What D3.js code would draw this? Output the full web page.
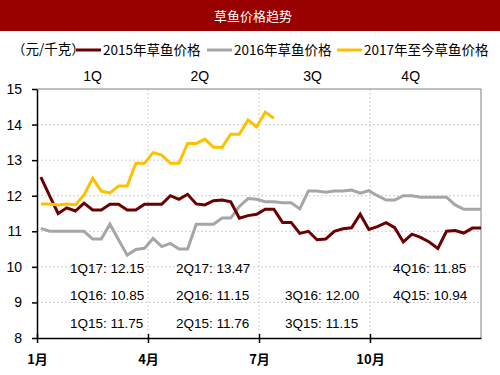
<!DOCTYPE html>
<html lang="zh">
<head>
<meta charset="utf-8">
<title>草鱼价格趋势</title>
<script src="https://d3js.org/d3.v7.min.js"></script>
<style>
  body { margin: 0; background: #fff; }
  svg text { font-family: "Liberation Sans", Arial, "Noto Sans CJK SC", sans-serif; fill: #000; }
  .cjk { font-family: "Noto Sans CJK SC", "Liberation Sans", sans-serif; }
  .grid line { stroke: #cfcfcf; stroke-width: 1; stroke-dasharray: 2,2; }
</style>
</head>
<body>
<div id="chart"></div>
<script>
// weekly price, yuan/kg (52 weeks)
var price2015 = [12.52, 12.0, 11.5, 11.66, 11.57, 11.79, 11.6, 11.6, 11.76, 11.76,
  11.6, 11.6, 11.76, 11.76, 11.76, 12.0, 11.9, 12.04, 11.77, 11.74,
  11.86, 11.88, 11.83, 11.37, 11.44, 11.48, 11.62, 11.62, 11.25, 11.25,
  10.94, 11.0, 10.76, 10.78, 11.0, 11.07, 11.1, 11.48, 11.05, 11.13,
  11.24, 11.1, 10.7, 10.92, 10.83, 10.7, 10.52, 11.0, 11.02, 10.95,
  11.09, 11.09];
var price2016 = [11.08, 11.0, 11.0, 11.0, 11.0, 11.0, 10.78, 10.78, 11.2, 10.76,
  10.33, 10.49, 10.52, 10.8, 10.57, 10.66, 10.5, 10.5, 11.2, 11.2,
  11.2, 11.37, 11.37, 11.7, 11.92, 11.9, 11.83, 11.83, 11.8, 11.8,
  11.63, 12.13, 12.13, 12.1, 12.13, 12.13, 12.16, 12.07, 12.14, 12.0,
  11.88, 11.88, 12.0, 12.0, 11.96, 11.96, 11.96, 11.96, 11.74, 11.62,
  11.62, 11.62];
var price2017 = [11.77, 11.77, 11.74, 11.77, 11.74, 12.02, 12.49, 12.13, 12.08, 12.27,
  12.27, 12.91, 12.91, 13.21, 13.14, 12.91, 12.91, 13.47, 13.47, 13.59,
  13.36, 13.36, 13.73, 13.73, 14.13, 13.94, 14.35, 14.18];

var seriesNames = ["2015年草鱼价格", "2016年草鱼价格", "2017年至今草鱼价格"];
var seriesColors = ["#6b0000", "#a6a6a6", "#ffc000"];

var yTicks = [8, 9, 10, 11, 12, 13, 14, 15];
var monthTicks = [0, 3, 6, 9];
var monthLabels = ["1月", "4月", "7月", "10月"];
var quarterLabels = ["1Q", "2Q", "3Q", "4Q"];

// quarterly averages: [quarter, row, text]
var quarterNotes = [
  [0, 0, "1Q17: 12.15"], [0, 1, "1Q16: 10.85"], [0, 2, "1Q15: 11.75"],
  [1, 0, "2Q17: 13.47"], [1, 1, "2Q16: 11.15"], [1, 2, "2Q15: 11.76"],
  [2, 1, "3Q16: 12.00"], [2, 2, "3Q15: 11.15"],
  [3, 0, "4Q16: 11.85"], [3, 1, "4Q15: 10.94"]
];

var w = 500, h = 375;
var pLeft = 37, pRight = 481, pTop = 89, pBottom = 338;

var svg = d3.select("#chart").append("svg")
  .attr("width", w)
  .attr("height", h);

// title bar
svg.append("rect")
  .attr("x", 0).attr("y", 0)
  .attr("width", w).attr("height", 31)
  .attr("fill", "#990000");
svg.append("text")
  .attr("class", "cjk")
  .attr("x", 253).attr("y", 21)
  .attr("text-anchor", "middle")
  .style("font-size", "13px")
  .style("fill", "#fff")
  .text("草鱼价格趋势");

// scales
var x = d3.scaleLinear().domain([0, 12]).range([pLeft, pRight]);
var xw = d3.scaleLinear().domain([-0.45, 51]).range([pLeft, pRight]);
var y = d3.scaleLinear().domain([8, 15]).range([pBottom, pTop]);

// grid
var grid = svg.append("g").attr("class", "grid");
grid.selectAll(".hg")
  .data(yTicks.slice(1, -1))
  .enter().append("line")
  .attr("x1", pLeft).attr("x2", pRight)
  .attr("y1", function(d) { return y(d); })
  .attr("y2", function(d) { return y(d); });
grid.selectAll(".vg")
  .data(monthTicks.slice(1))
  .enter().append("line")
  .attr("x1", function(d) { return x(d); })
  .attr("x2", function(d) { return x(d); })
  .attr("y1", pTop).attr("y2", pBottom);

// frame top / right
svg.append("path")
  .attr("d", "M" + pLeft + "," + pTop + "H" + pRight + "V" + pBottom)
  .attr("fill", "none")
  .attr("stroke", "#7f7f7f")
  .attr("stroke-width", 1);

// lines
var line = d3.line()
  .x(function(d, i) { return xw(i); })
  .y(function(d) { return y(d); });

[[price2016, 1], [price2015, 0], [price2017, 2]].forEach(function(s) {
  svg.append("path")
    .datum(s[0])
    .attr("d", line)
    .attr("fill", "none")
    .attr("stroke", seriesColors[s[1]])
    .attr("stroke-width", 3)
    .attr("stroke-linejoin", "miter");
});

// y axis
var yAxis = d3.axisLeft(y).tickValues(yTicks).tickFormat(d3.format("d"))
  .tickSize(5).tickPadding(10).tickSizeOuter(0);
var gy = svg.append("g")
  .attr("transform", "translate(" + pLeft + ",0)")
  .call(yAxis);
gy.select(".domain").attr("stroke", "#000").attr("stroke-width", 1.5);
gy.selectAll(".tick line").attr("stroke", "#000").attr("stroke-width", 1.5);
gy.selectAll("text")
  .style("font-size", "14px")
  .style("font-family", "Liberation Sans, Arial, sans-serif");

// x axis
var xAxis = d3.axisBottom(x).tickValues(monthTicks)
  .tickFormat(function(d, i) { return monthLabels[i]; })
  .tickSize(5).tickPadding(12).tickSizeOuter(0);
var gx = svg.append("g")
  .attr("transform", "translate(0," + pBottom + ")")
  .call(xAxis);
gx.select(".domain").attr("stroke", "#000").attr("stroke-width", 1.5);
gx.selectAll(".tick line").attr("stroke", "#000").attr("stroke-width", 1.5).attr("y1", -4);
gx.selectAll("text")
  .attr("class", "cjk")
  .style("font-size", "13px")
  .style("font-weight", "bold")
  .style("font-family", "Noto Sans CJK SC, sans-serif");

// quarter labels
var qAt = [1.5, 4.4, 7.45, 10.1];
svg.selectAll(".ql")
  .data(quarterLabels)
  .enter().append("text")
  .attr("x", function(d, i) { return x(qAt[i]); })
  .attr("y", 81)
  .attr("text-anchor", "middle")
  .style("font-size", "14px")
  .text(function(d) { return d; });

// quarterly notes
var noteX = [70, 176, 285, 393];
var noteY = [273, 300, 328];
svg.selectAll(".note")
  .data(quarterNotes)
  .enter().append("text")
  .attr("x", function(d) { return noteX[d[0]]; })
  .attr("y", function(d) { return noteY[d[1]]; })
  .style("font-size", "13.5px")
  .text(function(d) { return d[2]; });

// legend
var leg = svg.append("g");
leg.append("text")
  .attr("class", "cjk")
  .attr("x", 12).attr("y", 54)
  .style("font-size", "13.5px")
  .text("（元/千克）");
var legX = [76, 207, 337];
seriesNames.forEach(function(n, i) {
  leg.append("line")
    .attr("x1", legX[i]).attr("x2", legX[i] + 25)
    .attr("y1", 50).attr("y2", 50)
    .attr("stroke", seriesColors[i])
    .attr("stroke-width", 3);
  leg.append("text")
    .attr("class", "cjk")
    .attr("x", legX[i] + 27).attr("y", 55)
    .style("font-size", "13.5px")
    .text(n);
});
</script>
</body>
</html>
